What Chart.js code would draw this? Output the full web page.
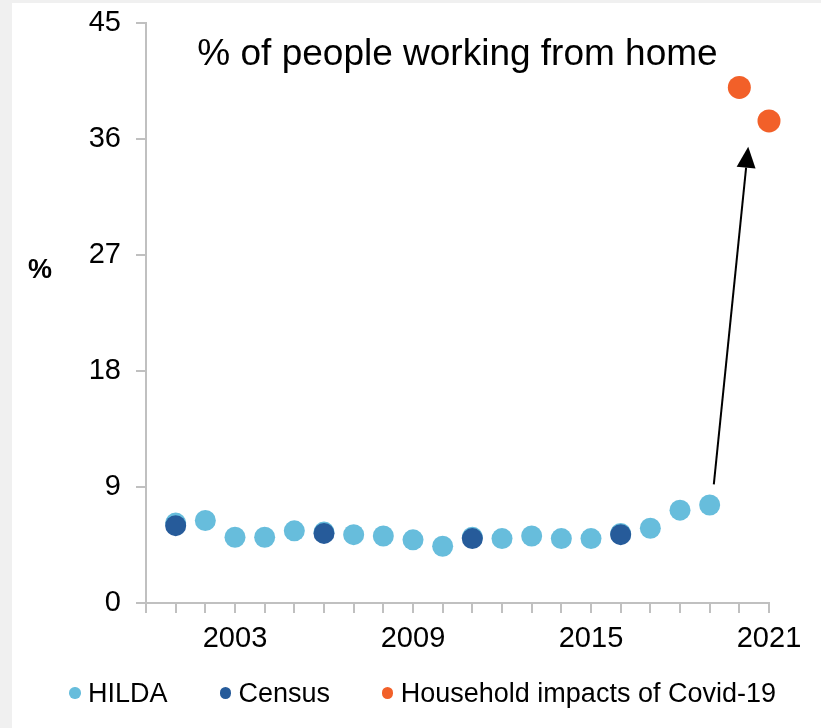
<!DOCTYPE html>
<html>
<head>
<meta charset="utf-8">
<title>% of people working from home</title>
<script src="https://cdn.jsdelivr.net/npm/chart.js@4.4.1/dist/chart.umd.min.js"></script>
<style>
  html, body { margin: 0; padding: 0; background: #f0f0f0; }
  #panel { position: absolute; left: 12px; top: 3px; width: 809px; height: 725px; background: #ffffff; }
  canvas { display: block; }
  #legend {
    position: absolute; left: 57.3px; top: 674px;
    display: flex; align-items: center; white-space: nowrap;
    font-family: "Liberation Sans", Arial, Helvetica, sans-serif;
    font-size: 27px; line-height: 32px; color: #000000;
  }
  #legend .item { display: flex; align-items: center; }
  #legend .item + .item { margin-left: 52px; }
  #legend .dot { width: 11.3px; height: 11.3px; border-radius: 50%; margin-right: 7.5px; }
</style>
</head>
<body>
<div id="panel">
  <canvas id="chart" width="809" height="725"></canvas>
  <div id="legend"></div>
</div>
<script>
// Survey years and shares (%) of employed people working from home
const hildaYears  = [2001, 2002, 2003, 2004, 2005, 2006, 2007, 2008, 2009, 2010,
                     2011, 2012, 2013, 2014, 2015, 2016, 2017, 2018, 2019];
const hildaValues = [6.2, 6.4, 5.1, 5.1, 5.6, 5.5, 5.3, 5.2, 4.9, 4.4,
                     5.1, 5.0, 5.2, 5.0, 5.0, 5.4, 5.8, 7.2, 7.6];

const censusYears  = [2001, 2006, 2011, 2016];
const censusValues = [6.0, 5.4, 5.0, 5.3];

const covidYears  = [2020, 2021];
const covidValues = [40.0, 37.4];

// Annotation arrow (start and end, in year / % units)
const arrowFrom = [2019.14, 9.2];
const arrowTo   = [2020.30, 35.4];

const yTicks = [0, 9, 18, 27, 36, 45];
const xTickLabels = [2003, 2009, 2015, 2021];

const chartTitle = '% of people working from home';
const yAxisLabel = '%';

const toPoints = (xs, ys) => xs.map((x, i) => ({ x: x, y: ys[i] }));

const FONT = '"Liberation Sans", Arial, Helvetica, sans-serif';

const overlay = {
  id: 'overlay',
  afterDatasetsDraw(chart) {
    const { ctx, chartArea, scales } = chart;
    const x = scales.x, y = scales.y;
    ctx.save();

    // title inside the plot area
    ctx.fillStyle = '#000000';
    ctx.font = '37px ' + FONT;
    ctx.textAlign = 'center';
    ctx.textBaseline = 'middle';
    ctx.fillText(chartTitle, (chartArea.left + chartArea.right) / 2, 52);

    // unit label beside the value axis
    ctx.font = 'bold 27px ' + FONT;
    ctx.fillText(yAxisLabel, 28, 268);

    // arrow pointing up to the 2020/21 readings
    const x0 = x.getPixelForValue(arrowFrom[0]);
    const y0 = y.getPixelForValue(arrowFrom[1]);
    const x1 = x.getPixelForValue(arrowTo[0]);
    const y1 = y.getPixelForValue(arrowTo[1]);
    const ang = Math.atan2(y1 - y0, x1 - x0);
    const headLen = 21, headHalf = 9.5;
    const bx = x1 - headLen * Math.cos(ang);
    const by = y1 - headLen * Math.sin(ang);
    ctx.strokeStyle = '#000000';
    ctx.lineWidth = 2;
    ctx.beginPath();
    ctx.moveTo(x0, y0);
    ctx.lineTo(bx, by);
    ctx.stroke();
    ctx.beginPath();
    ctx.moveTo(x1, y1);
    ctx.lineTo(bx + headHalf * Math.sin(ang), by - headHalf * Math.cos(ang));
    ctx.lineTo(bx - headHalf * Math.sin(ang), by + headHalf * Math.cos(ang));
    ctx.closePath();
    ctx.fillStyle = '#000000';
    ctx.fill();
    ctx.restore();
  }
};

const chart = new Chart(document.getElementById('chart'), {
  type: 'scatter',
  data: {
    datasets: [
      {
        label: 'HILDA',
        data: toPoints(hildaYears, hildaValues),
        backgroundColor: '#67bddc',
        borderColor: '#67bddc',
        borderWidth: 0,
        pointRadius: 10.5,
        clip: false,
        order: 2
      },
      {
        label: 'Census',
        data: toPoints(censusYears, censusValues),
        backgroundColor: '#265b9a',
        borderColor: '#265b9a',
        borderWidth: 0,
        pointRadius: 10.5,
        clip: false,
        order: 1
      },
      {
        label: 'Household impacts of Covid-19',
        data: toPoints(covidYears, covidValues),
        backgroundColor: '#f26029',
        borderColor: '#f26029',
        borderWidth: 0,
        pointRadius: 11.5,
        clip: false,
        order: 0
      }
    ]
  },
  options: {
    responsive: false,
    animation: false,
    devicePixelRatio: 1,
    layout: { padding: { left: 0, right: 52, top: 20, bottom: 0 } },
    plugins: {
      tooltip: { enabled: false },
      legend: { display: false }
    },
    scales: {
      x: {
        type: 'linear',
        min: 2000,
        max: 2021,
        afterFit(scale) { scale.height = 125; },
        afterBuildTicks(scale) {
          const t = [];
          for (let v = 2000; v <= 2021; v++) t.push({ value: v });
          scale.ticks = t;
        },
        border: { display: true, color: '#c0c0c0', width: 2 },
        grid: { drawOnChartArea: false, drawTicks: true, tickLength: 10, color: '#c0c0c0', lineWidth: 2 },
        ticks: {
          autoSkip: false,
          maxRotation: 0,
          padding: 9,
          color: '#000000',
          font: { family: FONT, size: 29 },
          callback: (v) => xTickLabels.includes(v) ? String(v) : ''
        }
      },
      y: {
        min: 0,
        max: 45,
        afterFit(scale) { scale.width = 134; },
        afterBuildTicks(scale) { scale.ticks = yTicks.map(v => ({ value: v })); },
        border: { display: true, color: '#c0c0c0', width: 2 },
        grid: { drawOnChartArea: false, drawTicks: true, tickLength: 10, color: '#c0c0c0', lineWidth: 2 },
        ticks: {
          padding: 15,
          color: '#000000',
          font: { family: FONT, size: 29, lineHeight: 0.3 }
        }
      }
    }
  },
  plugins: [overlay]
});

// Legend built from the chart's own datasets, in dataset order
const legendEl = document.getElementById('legend');
chart.data.datasets.forEach((ds) => {
  const item = document.createElement('span');
  item.className = 'item';
  const dot = document.createElement('span');
  dot.className = 'dot';
  dot.style.background = ds.backgroundColor;
  const txt = document.createElement('span');
  txt.textContent = ds.label;
  item.appendChild(dot);
  item.appendChild(txt);
  legendEl.appendChild(item);
});
</script>
</body>
</html>
